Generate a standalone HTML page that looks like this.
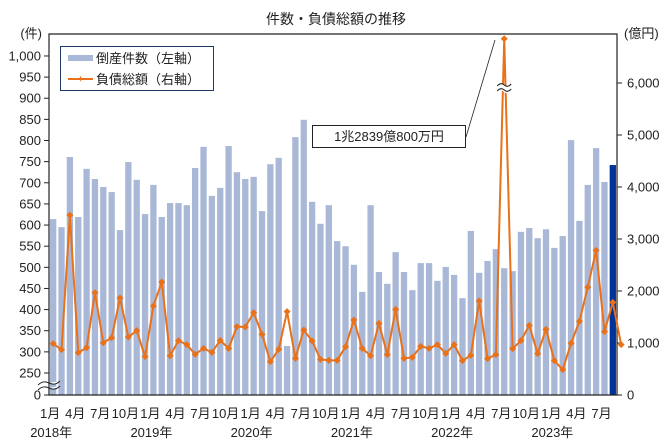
<!DOCTYPE html>
<html><head><meta charset="utf-8"><style>
html,body{margin:0;padding:0;background:#fff;}
svg{display:block;font-family:"Liberation Sans","Noto Sans CJK JP",sans-serif;}
</style></head><body>
<svg id="chart" width="672" height="446" viewBox="0 0 672 446">
<text x="336" y="24" text-anchor="middle" font-size="14" fill="#222">件数・負債総額の推移</text>
<text x="42" y="38" text-anchor="end" font-size="13" fill="#222">(件)</text>
<text x="624" y="38" font-size="13" fill="#222">(億円)</text>
<g id="bars"></g>
<g id="axes"></g>
<g id="line"></g>
<g>
<rect x="60.5" y="46.5" width="153" height="44" fill="#fff" stroke="#1f3864" stroke-width="1"/>
<rect x="68" y="55" width="25" height="6" fill="#a9b8d6"/>
<text x="96" y="63" font-size="13" fill="#222">倒産件数（左軸）</text>
<line x1="68" y1="79" x2="93" y2="79" stroke="#e8711a" stroke-width="2"/>
<text x="80.5" y="82" font-size="9" fill="#e8711a" text-anchor="middle">✦</text>
<text x="96" y="84" font-size="13" fill="#222">負債総額（右軸）</text>
</g>
<g>
<line x1="466" y1="137" x2="495" y2="40" stroke="#222" stroke-width="0.8"/>
<rect x="312.5" y="125.5" width="153" height="22" fill="#fff" stroke="#222"/>
<text x="389" y="141" font-size="13" text-anchor="middle" fill="#222">1兆2839億800万円</text>
</g>
</svg>
<script>
const months = ["1月","2月","3月","4月","5月","6月","7月","8月","9月","10月","11月","12月"];
const years = ["2018年","2019年","2020年","2021年","2022年","2023年"];
const counts = [614,595,761,619,733,709,690,678,588,749,707,626,
695,619,652,652,647,735,785,669,688,787,725,709,
714,633,744,759,314,808,849,655,603,647,562,550,
506,442,647,489,461,536,489,446,510,510,468,501,
482,427,586,487,515,543,498,491,584,593,569,590,
546,574,801,610,695,782,702,742];
const debt = [987,872,3460,814,910,1968,1006,1102,1865,1115,1237,737,
1712,2173,756,1045,968,782,897,820,1051,897,1314,1308,
1583,1167,641,878,1603,705,1250,1038,686,667,667,929,
1442,897,756,1378,776,1647,705,724,936,897,968,801,
968,660,763,1808,699,776,12839,891,1045,1340,795,1263,
660,487,994,1417,2071,2782,1218,1782,968];
const leftTicks = [0,250,300,350,400,450,500,550,600,650,700,750,800,850,900,950,1000];
const rightTicks = [0,1000,2000,3000,4000,5000,6000];

const NS="http://www.w3.org/2000/svg";
const X0=49, X1=617, Y0=395, YT=34;
const N=counts.length, step=(X1-X0)/N;
function xc(i){return X0+step*(i+0.5);}
function yL(v){return v<=250? Y0-(v/250)*22 : 373-(v-250)*0.4227;}
function yR(v){const vv=Math.min(v,6850);return Y0-vv*0.052;}
function mk(tag,attrs,parent){const e=document.createElementNS(NS,tag);for(const k in attrs)e.setAttribute(k,attrs[k]);parent.appendChild(e);return e;}
const bars=document.getElementById('bars'), axes=document.getElementById('axes'), line=document.getElementById('line');

counts.forEach((v,i)=>{
  const r=mk('rect',{x:(xc(i)-3.15).toFixed(2),y:yL(v).toFixed(2),width:6.3,height:(Y0-yL(v)).toFixed(2),fill:i===N-1?'#003399':'#a9b8d6'},bars);
  
  
});
// axes
let a=mk('path',{d:`M${X0},${YT}H${X1}V${Y0}H${X0}Z`,fill:'none',stroke:'#222','stroke-width':1.2},axes);


leftTicks.forEach(v=>{
  const y=yL(v);
  const t=mk('line',{x1:X0-5,y1:y,x2:X0,y2:y,stroke:'#222'},axes);
  
  
  const l=mk('text',{x:X0-8,y:y+4.5,'text-anchor':'end','font-size':13,fill:'#222'},axes);
  l.textContent=v.toLocaleString('en-US');
  
  
});
rightTicks.forEach(v=>{
  const y=yR(v);
  const t=mk('line',{x1:X1,y1:y,x2:X1+5,y2:y,stroke:'#222'},axes);
  
  
  const l=mk('text',{x:X1+10,y:y+4.5,'font-size':13,fill:'#222'},axes);
  l.textContent=v.toLocaleString('en-US');
  
  
});
for(let i=0;i<N;i+=3){
  const l=mk('text',{x:xc(i)-3,y:418,'text-anchor':'middle','font-size':13,fill:'#222'},axes);
  l.textContent=months[i%12];
  
  
  if(i%12===0){
    const yl=mk('text',{x:xc(i)-2,y:437,'text-anchor':'middle','font-size':13,fill:'#222'},axes);
    yl.textContent=years[i/12];
    
    
  }
}
// axis break
let br=mk('path',{d:`M38,385 q5,-5 11,-2 q6,3 11,-2 M38,390 q5,-5 11,-2 q6,3 11,-2`,fill:'#fff',stroke:'#222','stroke-width':1},axes);


// line
const pts=debt.map((v,i)=>`${xc(i).toFixed(2)},${yR(v).toFixed(2)}`).join(' ');
const pl=mk('polyline',{points:pts,fill:'none',stroke:'#e8711a','stroke-width':2},line);


debt.forEach((v,i)=>{
  const x=xc(i),y=yR(v);
  const m=mk('path',{d:`M${x-3.5},${y}L${x},${y-3.5}L${x+3.5},${y}L${x},${y+3.5}Z`,fill:'#e8711a'},line);
  
  
});
const pk=debt.indexOf(Math.max(...debt));
const bx=xc(pk);
const lb=mk('path',{d:`M${bx-7},86 q3.5,-4 7,-1 q3.5,3 7,-1 L${bx+7},91 q-3.5,4 -7,1 q-3.5,-3 -7,1 Z`,fill:'#fff',stroke:'none'},line);


const lb2=mk('path',{d:`M${bx-7},86 q3.5,-4 7,-1 q3.5,3 7,-1 M${bx-7},91 q3.5,-4 7,-1 q3.5,3 7,-1`,fill:'none',stroke:'#222','stroke-width':1},line);


</script>
</body></html>
